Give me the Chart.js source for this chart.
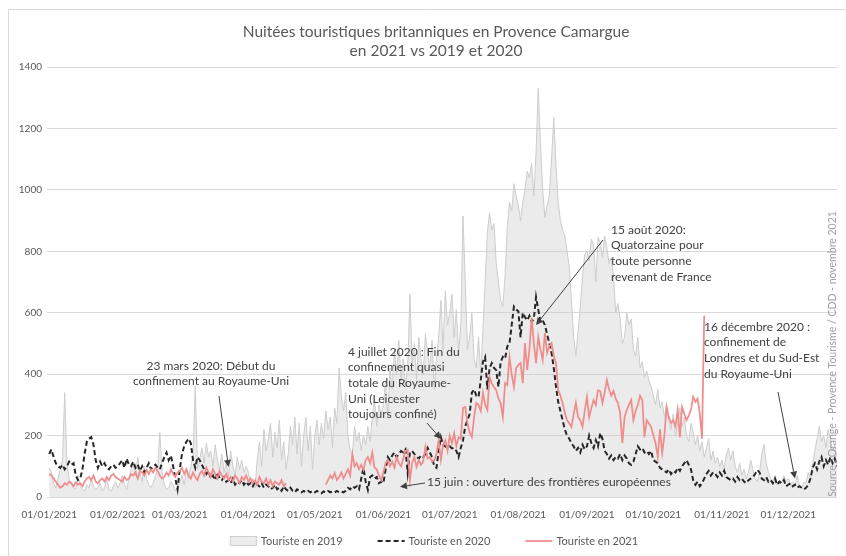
<!DOCTYPE html>
<html>
<head>
<meta charset="utf-8">
<script src="https://cdn.jsdelivr.net/npm/chart.js@4.4.0/dist/chart.umd.min.js"></script>
<style>
  html, body { margin: 0; padding: 0; background: #fff; overflow: hidden; }
</style>
</head>
<body>
<canvas id="chart" width="846" height="556"></canvas>
<script>
const FONT = "Lato, 'Open Sans', sans-serif";

// x axis: day of year (0 = 01/01), one label per month
const monthStarts = [0, 31, 59, 90, 120, 151, 181, 212, 243, 273, 304, 334];
const monthLabels = ["01/01/2021", "01/02/2021", "01/03/2021", "01/04/2021", "01/05/2021", "01/06/2021",
                     "01/07/2021", "01/08/2021", "01/09/2021", "01/10/2021", "01/11/2021", "01/12/2021"];

// nuitées par jour
const tourists2019 = [
  95, 80, 45, 30, 60, 90, 120, 340, 110, 60, 40, 30, 25, 70, 35, 25, 20, 40, 30, 60, 35, 25, 30, 45, 20, 30, 60, 25, 20, 35, 50, // jan
  30, 45, 70, 40, 25, 60, 90, 110, 70, 130, 80, 50, 100, 60, 40, 30, 45, 70, 90, 210, 80, 40, 25, 30, 50, 40, 20, 30, // fev
  50, 70, 40, 90, 60, 100, 140, 360, 90, 120, 160, 110, 175, 130, 150, 100, 170, 120, 90, 140, 80, 110, 60, 150, 100, 70, 130, 90, 120, 80, 100, // mar
  80, 40, 60, 30, 120, 180, 100, 220, 150, 190, 240, 130, 210, 160, 250, 120, 180, 90, 140, 230, 170, 260, 140, 240, 100, 200, 260, 150, 230, 90, // avr
  200, 250, 170, 240, 190, 280, 220, 260, 160, 290, 240, 420, 330, 280, 340, 200, 150, 140, 230, 180, 210, 150, 200, 170, 230, 180, 260, 320, 230, 300, 270, // mai
  300, 380, 260, 420, 350, 480, 400, 510, 380, 450, 360, 420, 660, 430, 500, 380, 520, 450, 400, 530, 470, 420, 510, 350, 450, 520, 640, 480, 670, 560, // juin
  600, 660, 520, 610, 470, 560, 915, 700, 480, 520, 600, 450, 420, 520, 400, 545, 700, 860, 925, 870, 890, 760, 700, 640, 620, 720, 880, 960, 930, 1020, 980, // juil
  950, 900, 960, 1000, 1060, 1040, 1085, 980, 1120, 1330, 1150, 1000, 910, 950, 980, 1100, 1235, 1080, 960, 900, 870, 850, 800, 750, 640, 520, 460, 540, 620, 720, 790, // aout
  800, 770, 840, 820, 700, 845, 830, 780, 850, 810, 760, 780, 720, 600, 630, 580, 500, 520, 600, 560, 580, 480, 460, 520, 420, 440, 390, 410, 380, 360, // sep
  330, 300, 350, 290, 310, 260, 300, 250, 220, 270, 200, 240, 290, 230, 260, 200, 180, 240, 210, 170, 200, 150, 180, 130, 160, 190, 120, 150, 110, 130, 100, // oct
  120, 90, 140, 160, 120, 150, 100, 80, 110, 70, 90, 60, 80, 120, 90, 60, 50, 80, 140, 170, 110, 80, 60, 50, 70, 40, 55, 45, 70, 50, // nov
  60, 40, 50, 35, 70, 40, 30, 50, 45, 80, 60, 110, 150, 190, 230, 180, 200, 160, 220, 190, 150, 170, 130, 150, 120, 140, 110, 130, 100, 120, 90 // dec
];

const tourists2020 = [
  140, 155, 130, 110, 100, 95, 105, 90, 100, 115, 105, 110, 70, 55, 60, 90, 140, 180, 190, 195, 170, 120, 95, 115, 100, 110, 95, 90, 100, 105, 95,
  100, 110, 120, 95, 125, 105, 100, 115, 95, 105, 85, 100, 80, 95, 110, 90, 100, 105, 95, 90, 110, 130, 145, 120, 135, 100, 60, 25,
  90, 140, 165, 180, 190, 175, 120, 95, 130, 120, 105, 90, 75, 85, 60, 70, 55, 80, 60, 55, 65, 50, 55, 45, 60, 40, 50, 45, 55, 40, 50,
  40, 45, 35, 50, 40, 35, 45, 30, 40, 35, 25, 30, 40, 25, 30, 20, 35, 25, 20, 30, 20, 15, 25, 20, 15, 20, 15, 20, 15, 20,
  15, 20, 15, 12, 18, 15, 20, 15, 18, 15, 20, 15, 18, 15, 20, 30, 25, 35, 30, 35, 25, 60, 94, 50, 23, 65, 70, 60, 65, 45, 50,
  45, 90, 130, 120, 135, 145, 130, 140, 150, 145, 155, 78, 145, 150, 140, 130, 125, 135, 130, 140, 160, 145, 130, 100, 95, 150, 195, 170, 165, 160,
  165, 158, 160, 150, 130, 160, 185, 230, 250, 270, 340, 350, 330, 325, 380, 440, 456, 350, 420, 436, 420, 413, 358, 440, 456, 450, 490, 500, 560, 620, 610,
  605, 520, 600, 586, 575, 590, 570, 580, 651, 610, 570, 575, 560, 530, 500, 470, 420, 360, 310, 280, 250, 220, 200, 190, 175, 165, 150, 160, 145, 170, 155,
  165, 200, 175, 160, 185, 165, 208, 190, 150, 140, 125, 135, 120, 130, 125, 140, 120, 135, 125, 110, 105, 115, 140, 165, 155, 160, 145, 150, 140, 150,
  120, 115, 110, 95, 90, 85, 80, 90, 75, 85, 80, 95, 85, 100, 110, 120, 105, 90, 55, 40, 50, 35, 45, 60, 75, 85, 70, 80, 75, 65, 80,
  70, 85, 65, 60, 55, 60, 50, 65, 55, 60, 50, 45, 55, 60, 65, 75, 88, 80, 60, 55, 65, 50, 55, 45, 60, 40, 50, 45, 55, 35,
  40, 45, 35, 40, 30, 35, 30, 25, 30, 40, 60, 95, 110, 90, 115, 130, 100, 120, 105, 130, 110, 125, 100, 115, 110, 120, 105, 130, 115, 125, 110
];

// 2021 : pas de données fin avril / début mai, série arrêtée fin octobre
const tourists2021 = [
  75, 70, 60, 50, 40, 30, 35, 45, 40, 50, 45, 35, 48, 40, 45, 35, 50, 60, 65, 55, 70, 50, 45, 55, 60, 50, 65, 55, 70, 75, 65,
  60, 55, 50, 65, 55, 60, 75, 70, 80, 60, 85, 80, 70, 88, 75, 90, 80, 95, 85, 70, 60, 65, 80, 70, 90, 75, 65, 80,
  85, 95, 75, 90, 70, 60, 80, 65, 55, 75, 85, 70, 95, 80, 65, 90, 75, 60, 85, 70, 60, 75, 55, 65, 50, 70, 60, 45, 65, 55, 70,
  50, 60, 45, 55, 40, 65, 50, 45, 60, 40, 55, 35, 50, 45, 40, 55, 35, 45, null, null, null, null, null, null, null, null, null, null, null, null,
  null, null, null, null, null, 40, 55, 70, 60, 78, 55, 65, 80, 60, 75, 90, 70, 140, 100, 110, 90, 105, 88, 120, 130, 110, 145, 95, 90, 70, 55,
  80, 110, 120, 100, 115, 95, 130, 110, 100, 125, 150, 153, 55, 110, 130, 98, 120, 105, 115, 163, 125, 130, 115, 120, 140, 185, 120, 170, 185, 150,
  200, 175, 208, 165, 195, 190, 290, 293, 240, 210, 195, 260, 306, 300, 280, 339, 300, 283, 390, 370, 358, 348, 320, 306, 260, 371, 365, 456, 400, 358, 420,
  430, 436, 371, 501, 413, 480, 585, 500, 436, 521, 480, 446, 534, 469, 490, 501, 460, 436, 348, 330, 306, 274, 250, 240, 228, 270, 306, 260, 250, 228, 280,
  326, 260, 290, 316, 300, 348, 345, 306, 340, 381, 350, 330, 345, 320, 306, 273, 176, 260, 283, 300, 316, 250, 280, 300, 330, 316, 195, 250, 240, 228,
  200, 176, 130, 220, 143, 200, 293, 260, 241, 250, 230, 283, 195, 293, 270, 250, 265, 283, 326, 310, 320, 273, 190, 590
];

const seriesNames = ["Touriste en 2019", "Touriste en 2020", "Touriste en 2021"];

// annotations : lignes de texte, position du texte, flèche vers (jour, valeur)
const notes = [
  { lines: ["23 mars 2020: Début du", "confinement au Royaume-Uni"], x: 211, y: 366, align: "center", from: [219, 396], to: [81, 98] },
  { lines: ["4 juillet 2020 : Fin du", "confinement quasi", "totale du Royaume-", "Uni (Leicester", "toujours confiné)"], x: 348, y: 352, align: "left", from: [427, 423], to: [177, 189] },
  { lines: ["15 juin : ouverture des frontières européennes"], x: 427, y: 482, align: "left", from: [425, 483], to: [158.5, 33] },
  { lines: ["15 août 2020:", "Quatorzaine pour", "toute personne", "revenant de France"], x: 611, y: 230, align: "left", from: [603, 240], to: [220, 560] },
  { lines: ["16 décembre 2020 :", "confinement de", "Londres et du Sud-Est", "du Royaume-Uni"], x: 704, y: 327, align: "left", from: [778, 392], to: [337, 60] }
];

function toPoints(values) {
  return values.map((v, day) => ({ x: day, y: v }));
}

function drawArrow(ctx, x1, y1, x2, y2) {
  const ang = Math.atan2(y2 - y1, x2 - x1);
  const len = 7, wid = 3.5;
  ctx.beginPath();
  ctx.moveTo(x1, y1);
  ctx.lineTo(x2 - Math.cos(ang) * len, y2 - Math.sin(ang) * len);
  ctx.stroke();
  ctx.beginPath();
  ctx.moveTo(x2, y2);
  ctx.lineTo(x2 - Math.cos(ang) * len - Math.sin(ang) * wid, y2 - Math.sin(ang) * len + Math.cos(ang) * wid);
  ctx.lineTo(x2 - Math.cos(ang) * len + Math.sin(ang) * wid, y2 - Math.sin(ang) * len - Math.cos(ang) * wid);
  ctx.closePath();
  ctx.fill();
}

const decorations = {
  id: "decorations",
  beforeDraw(chart) {
    const ctx = chart.ctx;
    ctx.save();
    ctx.fillStyle = "#fff";
    ctx.fillRect(0, 0, chart.width, chart.height);
    ctx.strokeStyle = "#d9d9d9";
    ctx.lineWidth = 1;
    ctx.beginPath();
    ctx.moveTo(8.5, chart.height + 2);
    ctx.lineTo(8.5, 9.5);
    ctx.lineTo(chart.width + 2, 9.5);
    ctx.stroke();
    ctx.restore();
  },
  afterDraw(chart) {
    const ctx = chart.ctx;
    const xs = chart.scales.x, ys = chart.scales.y;
    ctx.save();

    // titre
    ctx.fillStyle = "#595959";
    ctx.font = "15.5px " + FONT;
    ctx.textAlign = "center";
    ctx.textBaseline = "middle";
    ctx.fillText("Nuitées touristiques britanniques en Provence Camargue", 436, 32);
    ctx.fillText("en 2021 vs 2019 et 2020", 436, 51);

    // annotations
    ctx.font = "12px " + FONT;
    ctx.fillStyle = "#404040";
    ctx.strokeStyle = "#404040";
    ctx.lineWidth = 1;
    notes.forEach(n => {
      ctx.textAlign = n.align;
      n.lines.forEach((line, i) => ctx.fillText(line, n.x, n.y + i * 15.6));
      drawArrow(ctx, n.from[0], n.from[1], xs.getPixelForValue(n.to[0]), ys.getPixelForValue(n.to[1]));
    });

    // source
    ctx.save();
    ctx.translate(833, 354);
    ctx.rotate(-Math.PI / 2);
    ctx.font = "10.5px " + FONT;
    ctx.fillStyle = "#a0a0a0";
    ctx.textAlign = "center";
    ctx.fillText("Source : Orange - Provence Tourisme / CDD - novembre 2021", 0, 0);
    ctx.restore();

    // légende
    ctx.font = "11px " + FONT;
    ctx.fillStyle = "#595959";
    ctx.textAlign = "left";
    const sym = 27, gap = 4, between = 35, ly = 541;
    const widths = seriesNames.map(s => sym + gap + ctx.measureText(s).width);
    let lx = 434 - (widths.reduce((a, b) => a + b, 0) + between * 2) / 2;
    chart.data.datasets.forEach((ds, i) => {
      ctx.save();
      if (i === 0) {
        ctx.fillStyle = "#ececec";
        ctx.strokeStyle = "#d0d0d0";
        ctx.fillRect(lx, ly - 5, sym, 10);
        ctx.strokeRect(lx + 0.5, ly - 4.5, sym - 1, 9);
      } else {
        ctx.strokeStyle = ds.borderColor;
        ctx.lineWidth = ds.borderWidth;
        ctx.setLineDash(ds.borderDash || []);
        ctx.beginPath();
        ctx.moveTo(lx, ly);
        ctx.lineTo(lx + sym, ly);
        ctx.stroke();
      }
      ctx.restore();
      ctx.fillText(seriesNames[i], lx + sym + gap, ly);
      lx += widths[i] + between;
    });

    ctx.restore();
  }
};

new Chart(document.getElementById("chart"), {
  type: "line",
  data: {
    datasets: [
      {
        label: seriesNames[0],
        data: toPoints(tourists2019),
        borderColor: "#cdcdcd",
        borderWidth: 1,
        backgroundColor: "rgba(200,200,200,0.36)",
        fill: "origin",
        order: 3
      },
      {
        label: seriesNames[1],
        data: toPoints(tourists2020),
        borderColor: "#262626",
        borderWidth: 2,
        borderDash: [5, 3],
        fill: false,
        order: 2
      },
      {
        label: seriesNames[2],
        data: toPoints(tourists2021),
        borderColor: "#f08c8c",
        borderWidth: 1.75,
        fill: false,
        spanGaps: false,
        order: 1
      }
    ]
  },
  options: {
    responsive: false,
    animation: false,
    events: [],
    layout: { padding: { top: 67, right: 9, bottom: 34, left: 0 } },
    elements: { point: { radius: 0 }, line: { tension: 0 } },
    plugins: {
      legend: { display: false },
      title: { display: false },
      tooltip: { enabled: false }
    },
    scales: {
      x: {
        type: "linear",
        min: -1,
        max: 356,
        afterBuildTicks: scale => { scale.ticks = monthStarts.map(v => ({ value: v })); },
        afterFit: scale => { scale.height = 25; },
        grid: { display: false, drawTicks: false },
        border: { display: false },
        ticks: {
          autoSkip: false,
          maxRotation: 0,
          padding: 12,
          color: "#595959",
          font: { family: FONT, size: 10 },
          callback: v => monthLabels[monthStarts.indexOf(v)]
        }
      },
      y: {
        min: 0,
        max: 1400,
        afterFit: scale => { scale.width = 47; },
        grid: { color: "#d9d9d9", drawTicks: false },
        border: { display: false },
        ticks: {
          stepSize: 200,
          padding: 5,
          color: "#595959",
          font: { family: FONT, size: 10 },
          callback: v => String(v)
        }
      }
    }
  },
  plugins: [decorations]
});
</script>
</body>
</html>
